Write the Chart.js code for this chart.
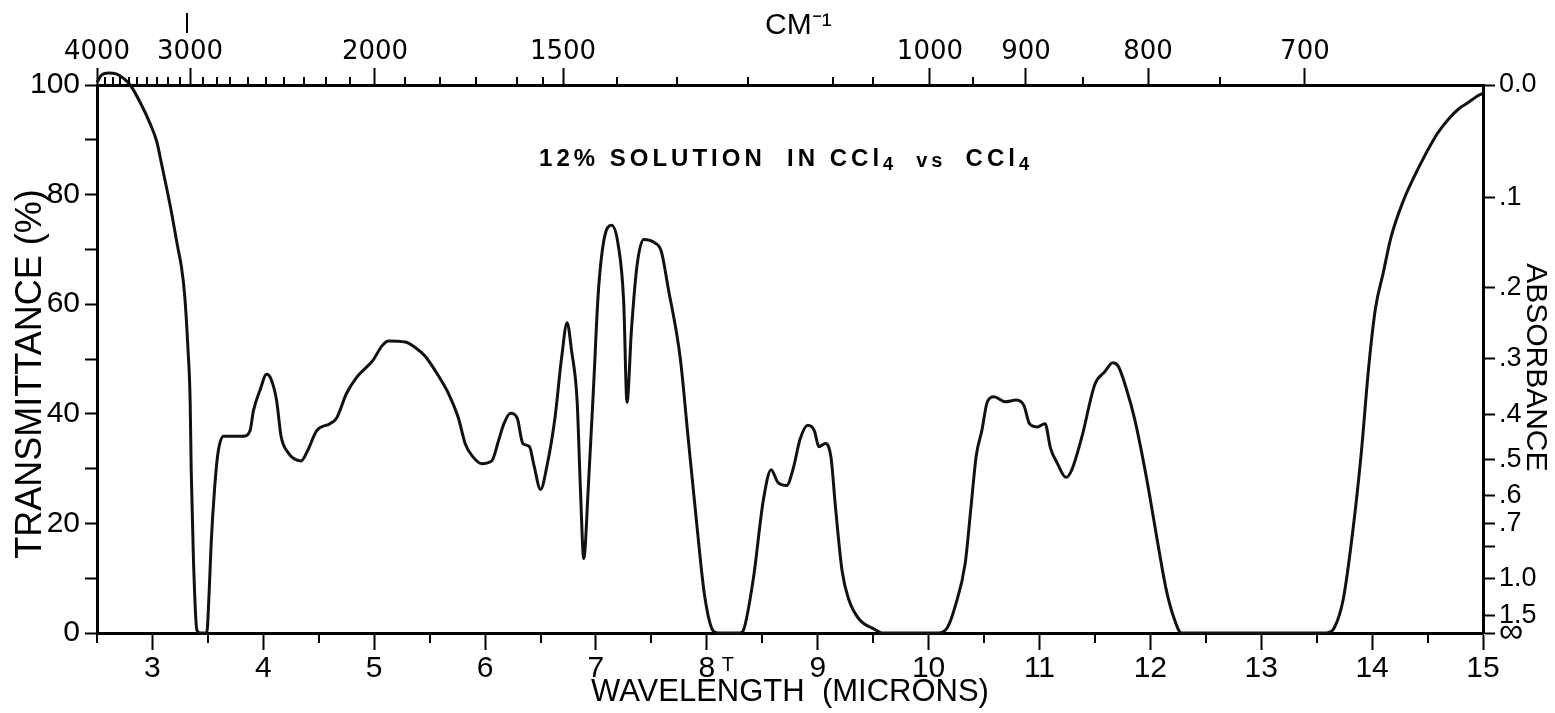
<!DOCTYPE html>
<html><head><meta charset="utf-8">
<script src="https://cdn.jsdelivr.net/npm/chart.js@4.4.1/dist/chart.umd.min.js"></script>
<style>html,body{margin:0;padding:0;background:#fff;}canvas{display:block;}</style>
</head><body>
<canvas id="c" width="1555" height="713"></canvas>
<script>
// ---- data ----
const wavelength = [2.50,2.54,2.60,2.68,2.74,2.80,2.89,2.98,3.04,3.08,3.16,3.23,3.26,3.29,3.32,3.34,3.35,3.37,3.40,3.43,3.49,3.51,3.53,3.56,3.59,3.64,3.82,3.88,3.91,3.97,4.03,4.07,4.12,4.16,4.22,4.34,4.40,4.48,4.60,4.66,4.75,4.84,4.99,5.07,5.13,5.28,5.37,5.46,5.58,5.67,5.76,5.82,5.88,5.97,6.06,6.12,6.17,6.23,6.29,6.34,6.40,6.44,6.50,6.56,6.63,6.69,6.74,6.78,6.83,6.86,6.89,6.93,6.98,7.02,7.07,7.14,7.20,7.25,7.28,7.32,7.37,7.43,7.53,7.59,7.65,7.76,7.83,7.91,7.98,8.06,8.10,8.30,8.33,8.42,8.51,8.58,8.64,8.72,8.78,8.84,8.91,8.97,9.01,9.07,9.12,9.16,9.22,9.28,9.37,9.52,9.58,10.09,10.17,10.24,10.33,10.38,10.43,10.48,10.53,10.59,10.69,10.79,10.86,10.91,10.98,11.05,11.10,11.16,11.24,11.29,11.38,11.50,11.59,11.66,11.71,11.78,11.86,11.97,12.07,12.14,12.21,12.28,13.59,13.66,13.74,13.83,13.90,13.97,14.03,14.10,14.17,14.28,14.38,14.48,14.59,14.69,14.79,14.86,14.95,15.00];
const transmittance = [100.5,101.8,102.2,102.0,101.2,100,96.8,92.9,89.6,85.8,78,70.2,67,61.8,52,42.4,29.4,13.3,0.6,0,0,6.8,16.5,26.2,32.7,35.9,35.9,36.9,40.5,44.3,47.2,46.3,42.4,35.9,33,31.4,33.3,36.9,38.2,39.2,43.7,46.6,49.8,52.4,53.3,53.1,52.1,50.5,46.9,43.7,39.2,34.6,32.4,30.9,31.4,35.0,38.2,40.1,39.2,34.6,34,30.7,26.2,30.7,39.2,50.2,56.6,51.5,42.4,26.2,13.6,26.2,45.6,61.8,71.5,74.4,70.9,60.5,42.1,55.3,67,71.8,71.2,69.6,63.1,50.2,35.9,19.7,6.8,0.3,0,0,0.5,10,24.3,29.8,27.5,26.9,30.1,35.3,37.9,36.9,34,34.6,32,23,11.3,6.1,2.6,0.6,0,0,1,4.9,12.7,22.5,32.4,36.9,42.2,43.1,42.2,42.5,41.5,38.2,37.6,38.2,33.7,31,28.4,29.7,35.6,45.4,47.7,49.3,48.7,44.8,38.9,27.8,16,8.2,2.9,0,0,1,6.2,19.3,32.4,48.7,59.2,65.7,72.2,78.8,83.3,87.3,91.2,93.8,95.8,96.7,98,98.5];

// bottom (wavelength, microns)
const bottomTickValues = [3,4,5,6,7,8,9,10,11,12,13,14,15];
const bottomMinorTicks = [2.5,3.5,4.5,5.5,6.5,7.5,8.5,9.5,10.5,11.5,12.5,13.5,14.5];
// top (wavenumber, cm-1) - positions as printed on the reference, in microns
const topTickLabels = ['4000','3000','2000','1500','1000','900','800','700'];
const topTickPos = [2.5,3.339,5.007,6.703,10.012,10.878,11.979,13.394];
const topMinorTicks = [2.57,2.64,2.71,2.79,2.86,2.95,3.04,3.14,3.25,3.456,3.582,3.70,3.862,4.024,4.186,4.367,4.565,4.782,5.278,5.593,5.918,6.288,6.52,7.19,7.73,8.37,9.14,9.50,10.40,11.39,12.63];
// left (transmittance %)
const leftTickValues = [0,10,20,30,40,50,60,70,80,90,100];
const leftTickLabels = ['0','','20','','40','','60','','80','','100'];
// right (absorbance)
const absorbanceValues = [0,0.1,0.2,0.3,0.4,0.5,0.6,0.7,0.8,1.0,1.5,Infinity];
const absorbanceLabels = ['0.0','.1','.2','.3','.4','.5','.6','.7','','1.0','1.5','\u221E'];

const noteParts = [
  {t:'12% SOLUTION  IN CCl', s:24, dy:0},
  {t:'4', s:18, dy:4},
  {t:'  vs  ', s:20, dy:1},
  {t:'CCl', s:24, dy:0},
  {t:'4', s:18, dy:4}
];

const FONT = 'Liberation Sans';
Chart.defaults.font.family = FONT;
Chart.defaults.color = '#000';

const extras = {
  id: 'extras',
  beforeDraw(chart) {
    const c = chart.ctx; c.save(); c.fillStyle = '#fff'; c.fillRect(0, 0, chart.width, chart.height); c.restore();
  },
  afterDraw(chart) {
    const ctx = chart.ctx, xs = chart.scales.x, xt = chart.scales.x2, a = chart.chartArea;
    ctx.save();
    ctx.strokeStyle = '#000'; ctx.lineWidth = 2;
    ctx.beginPath();
    bottomMinorTicks.forEach(v => { const p = Math.round(xs.getPixelForValue(v)); ctx.moveTo(p, a.bottom); ctx.lineTo(p, a.bottom + 10); });
    topMinorTicks.forEach(v => { const p = Math.round(xt.getPixelForValue(v)); ctx.moveTo(p, a.top); ctx.lineTo(p, a.top - 8); });
    const m = Math.round(xt.getPixelForValue(topTickPos[1])) - 3;
    ctx.moveTo(m, 13); ctx.lineTo(m, 33);
    ctx.stroke();

    // annotation text
    ctx.fillStyle = '#000';
    ctx.textBaseline = 'alphabetic';
    ctx.letterSpacing = '4px';
    let total = 0;
    noteParts.forEach(p => { ctx.font = 'bold ' + p.s + 'px "' + FONT + '"'; p.w = ctx.measureText(p.t).width; total += p.w; });
    let x = (a.left + a.right) / 2 - total / 2 - 4;
    const base = 166;
    noteParts.forEach(p => { ctx.font = 'bold ' + p.s + 'px "' + FONT + '"'; ctx.fillText(p.t, x, base + p.dy); x += p.w; });
    ctx.letterSpacing = '0px';

    // small "T" marker under the axis
    ctx.font = '20px "' + FONT + '"';
    ctx.textAlign = 'center'; ctx.textBaseline = 'middle';
    ctx.fillText('T', xs.getPixelForValue(8.19), 665);
    ctx.restore();
  }
};

new Chart(document.getElementById('c'), {
  type: 'line',
  data: {
    datasets: [{
      data: wavelength.map((w, i) => ({x: w, y: transmittance[i]})),
      borderColor: '#111', borderWidth: 3, pointRadius: 0,
      cubicInterpolationMode: 'monotone', fill: false, clip: false,
      xAxisID: 'x', yAxisID: 'y'
    }]
  },
  plugins: [extras],
  options: {
    responsive: false, animation: false, devicePixelRatio: 1,
    layout: {padding: 0},
    plugins: {legend: {display: false}, tooltip: {enabled: false}},
    scales: {
      x: {
        type: 'linear', position: 'bottom', min: 2.5, max: 15,
        afterBuildTicks: s => { s.ticks = bottomTickValues.map(v => ({value: v})); },
        afterFit: s => { s.height = 80; },
        ticks: {autoSkip: false, maxRotation: 0, minRotation: 0, padding: 1, font: {size: 30}, callback: v => String(v)},
        grid: {drawOnChartArea: false, drawTicks: true, tickLength: 17, tickWidth: 2, tickColor: '#000'},
        border: {display: true, color: '#000', width: 3},
        title: {display: true, text: 'WAVELENGTH  (MICRONS)', font: {size: 31}, padding: {top: 0, bottom: 2}}
      },
      x2: {
        type: 'linear', position: 'top', min: 2.5, max: 15,
        afterBuildTicks: s => { s.ticks = topTickPos.map(v => ({value: v})); },
        afterFit: s => { s.height = 85; },
        ticks: {autoSkip: false, maxRotation: 0, minRotation: 0, padding: 0, font: {family: 'DejaVu Sans', size: 26}, callback: (v, i) => topTickLabels[i]},
        grid: {drawOnChartArea: false, drawTicks: true, tickLength: 17, tickWidth: 2, tickColor: '#000'},
        border: {display: true, color: '#000', width: 3},
        title: {display: true, text: '  CM\u207B\u00B9', font: {size: 30}, padding: {top: 8, bottom: 0}}
      },
      y: {
        type: 'linear', position: 'left', min: 0, max: 100,
        afterBuildTicks: s => { s.ticks = leftTickValues.map(v => ({value: v})); },
        afterFit: s => { s.width = 97; },
        ticks: {autoSkip: false, padding: 5, font: {size: 30}, callback: (v, i) => leftTickLabels[i]},
        grid: {drawOnChartArea: false, drawTicks: true, tickLength: 12, tickWidth: 2, tickColor: '#000'},
        border: {display: true, color: '#000', width: 3},
        title: {display: true, text: 'TRANSMITTANCE (%)   ', font: {size: 36}, padding: {top: 9, bottom: 0}}
      },
      y2: {
        type: 'linear', position: 'right', min: 0, max: 100,
        afterBuildTicks: s => { s.ticks = absorbanceValues.map(a => ({value: a === Infinity ? 0 : 100 * Math.pow(10, -a)})); },
        afterFit: s => { s.width = 72; },
        ticks: {autoSkip: false, padding: 4, font: c => ({size: c.index === absorbanceLabels.length - 1 ? 34 : 27}), callback: (v, i) => absorbanceLabels[i]},
        grid: {drawOnChartArea: false, drawTicks: true, tickLength: 12, tickWidth: 2, tickColor: '#000'},
        border: {display: true, color: '#000', width: 3},
        title: {display: true, text: '  ABSORBANCE', font: {size: 30}, padding: {top: 2, bottom: 0}}
      }
    }
  }
});
</script>
</body></html>
